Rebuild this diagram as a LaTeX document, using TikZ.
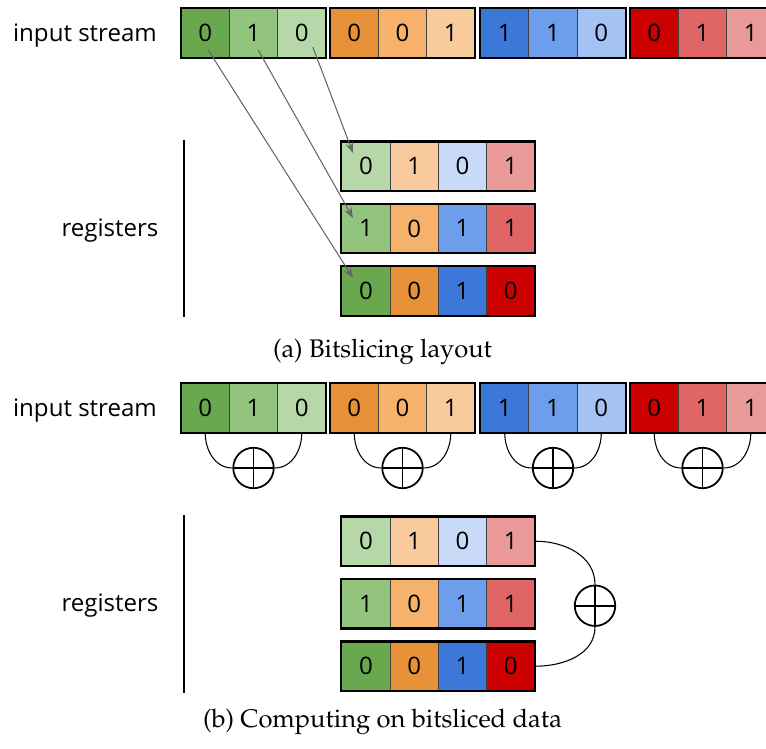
\documentclass[tikz,border=0pt]{standalone}
\usepackage[T1]{fontenc}
\usepackage{fontspec}
\setsansfont{Open Sans}
\usetikzlibrary{arrows.meta}

\definecolor{grn1}{HTML}{6AA84F}
\definecolor{grn2}{HTML}{93C47D}
\definecolor{grn3}{HTML}{B6D7A8}
\definecolor{org1}{HTML}{E69138}
\definecolor{org2}{HTML}{F6B26B}
\definecolor{org3}{HTML}{F9CB9C}
\definecolor{blu1}{HTML}{3C78D8}
\definecolor{blu2}{HTML}{6D9EEB}
\definecolor{blu3}{HTML}{A4C2F4}
\definecolor{blu4}{HTML}{C9DAF8}
\definecolor{red1}{HTML}{CC0000}
\definecolor{red2}{HTML}{E06666}
\definecolor{red3}{HTML}{EA9999}

\tikzset{
  bit/.style={draw=black!75,line width=0.5pt,minimum width=0.966cm,minimum height=0.97cm,
    inner sep=0pt,font=\sffamily\fontsize{13.7}{16}\selectfont},
  grp/.style={draw=black,line width=1.2pt},
  lbl/.style={font=\sffamily\fontsize{13.7}{16}\selectfont},
  capt/.style={font=\fontencoding{T1}\fontfamily{ppl}\fontsize{14.5}{17}\selectfont},
  map/.style={draw=black!60,line width=0.6pt,-{Stealth[length=6pt,width=4.4pt]}},
  xor/.style={circle,draw,line width=1pt,minimum size=0.81cm,inner sep=0pt,
    path picture={\draw[line width=1pt]
      (path picture bounding box.north) -- (path picture bounding box.south)
      (path picture bounding box.west) -- (path picture bounding box.east);}},
  xorline/.style={draw,line width=0.6pt},
}

\begin{document}
\begin{tikzpicture}[x=0.02cm,y=-0.02cm]
  \useasboundingbox (0,0) rectangle (766,749);
  \clip (0,0) rectangle (766,749);

  % (a) bitslicing layout
  \node[lbl] (ain) at (85,36) {input stream};
  \draw
    (205.2,33) node[bit,fill=grn1] (as0){0}
    (253.5,33) node[bit,fill=grn2] (as1){1}
    (301.8,33) node[bit,fill=grn3] (as2){0}
    (354.2,33) node[bit,fill=org1] (as3){0}
    (402.5,33) node[bit,fill=org2] (as4){0}
    (450.8,33) node[bit,fill=org3] (as5){1}
    (504.7,33) node[bit,fill=blu1] (as6){1}
    (553.0,33) node[bit,fill=blu2] (as7){1}
    (601.3,33) node[bit,fill=blu3] (as8){0}
    (654.2,33) node[bit,fill=red1] (as9){0}
    (702.5,33) node[bit,fill=red2] (as10){1}
    (750.8,33) node[bit,fill=red3] (as11){1};
  \draw[grp] (as0.north west) rectangle (as2.south east);
  \draw[grp] (as3.north west) rectangle (as5.south east);
  \draw[grp] (as6.north west) rectangle (as8.south east);
  \draw[grp] (as9.north west) rectangle (as11.south east);

  \node[lbl] (areg) at (110,231) {registers};
  \draw[line width=1pt] (184.3,140) -- (184.3,316.7);
  \draw
    (365.9,166.2) node[bit,fill=grn3] (ar00){0}
    (414.2,166.2) node[bit,fill=org3] (ar01){1}
    (462.5,166.2) node[bit,fill=blu4] (ar02){0}
    (510.8,166.2) node[bit,fill=red3] (ar03){1}
    (365.9,228.4) node[bit,fill=grn2] (ar10){1}
    (414.2,228.4) node[bit,fill=org2] (ar11){0}
    (462.5,228.4) node[bit,fill=blu2] (ar12){1}
    (510.8,228.4) node[bit,fill=red2] (ar13){1}
    (365.9,290.9) node[bit,fill=grn1] (ar20){0}
    (414.2,290.9) node[bit,fill=org1] (ar21){0}
    (462.5,290.9) node[bit,fill=blu1] (ar22){1}
    (510.8,290.9) node[bit,fill=red1] (ar23){0};
  \draw[grp] (ar00.north west) rectangle (ar03.south east);
  \draw[grp] (ar10.north west) rectangle (ar13.south east);
  \draw[grp] (ar20.north west) rectangle (ar23.south east);

  \begin{scope}[map]
    \draw ([shift={(3,17)}]as0.center) to ([shift={(-12.9,-12.9)}]ar20.center);
    \draw ([shift={(4.7,17)}]as1.center) to ([shift={(-12.9,-10.4)}]ar10.center);
    \draw ([shift={(11,14)}]as2.center) to ([shift={(-12.9,-13.2)}]ar00.center);
  \end{scope}

  \node[capt] (acap) at (382.5,352) {(a) Bitslicing layout};

  % (b) computing on bitsliced data
  \node[lbl] (bin) at (85,411) {input stream};
  \draw
    (205.2,408) node[bit,fill=grn1] (bs0){0}
    (253.5,408) node[bit,fill=grn2] (bs1){1}
    (301.8,408) node[bit,fill=grn3] (bs2){0}
    (354.2,408) node[bit,fill=org1] (bs3){0}
    (402.5,408) node[bit,fill=org2] (bs4){0}
    (450.8,408) node[bit,fill=org3] (bs5){1}
    (504.7,408) node[bit,fill=blu1] (bs6){1}
    (553.0,408) node[bit,fill=blu2] (bs7){1}
    (601.3,408) node[bit,fill=blu3] (bs8){0}
    (654.2,408) node[bit,fill=red1] (bs9){0}
    (702.5,408) node[bit,fill=red2] (bs10){1}
    (750.8,408) node[bit,fill=red3] (bs11){1};
  \draw[grp] (bs0.north west) rectangle (bs2.south east);
  \draw[grp] (bs3.north west) rectangle (bs5.south east);
  \draw[grp] (bs6.north west) rectangle (bs8.south east);
  \draw[grp] (bs9.north west) rectangle (bs11.south east);

  \node[xor] (bx0) at (253.5,468) {};
  \node[xor] (bx1) at (402.5,468) {};
  \node[xor] (bx2) at (553.0,468) {};
  \node[xor] (bx3) at (702.5,468) {};
  \begin{scope}[xorline]
    \draw (bs0.south) to[out=-90,in=180] (bx0.west);
    \draw (bx0.east) to[out=0,in=-90] (bs2.south);
    \draw (bs3.south) to[out=-90,in=180] (bx1.west);
    \draw (bx1.east) to[out=0,in=-90] (bs5.south);
    \draw (bs6.south) to[out=-90,in=180] (bx2.west);
    \draw (bx2.east) to[out=0,in=-90] (bs8.south);
    \draw (bs9.south) to[out=-90,in=180] (bx3.west);
    \draw (bx3.east) to[out=0,in=-90] (bs11.south);
  \end{scope}

  \node[lbl] (breg) at (110,606) {registers};
  \draw[line width=1pt] (184.3,515) -- (184.3,692.7);
  \draw
    (365.9,541.2) node[bit,fill=grn3] (br00){0}
    (414.2,541.2) node[bit,fill=org3] (br01){1}
    (462.5,541.2) node[bit,fill=blu4] (br02){0}
    (510.8,541.2) node[bit,fill=red3] (br03){1}
    (365.9,603.8) node[bit,fill=grn2] (br10){1}
    (414.2,603.8) node[bit,fill=org2] (br11){0}
    (462.5,603.8) node[bit,fill=blu2] (br12){1}
    (510.8,603.8) node[bit,fill=red2] (br13){1}
    (365.9,666.2) node[bit,fill=grn1] (br20){0}
    (414.2,666.2) node[bit,fill=org1] (br21){0}
    (462.5,666.2) node[bit,fill=blu1] (br22){1}
    (510.8,666.2) node[bit,fill=red1] (br23){0};
  \draw[grp] (br00.north west) rectangle (br03.south east);
  \draw[grp] (br10.north west) rectangle (br13.south east);
  \draw[grp] (br20.north west) rectangle (br23.south east);

  \node[xor] (bx) at (595,605.7) {};
  \begin{scope}[xorline]
    \draw (br03.east) to[out=0,in=90] (bx.north);
    \draw (bx.south) to[out=-90,in=0] (br23.east);
  \end{scope}

  \node[capt] (bcap) at (382.5,722) {(b) Computing on bitsliced data};
\end{tikzpicture}
\end{document}
